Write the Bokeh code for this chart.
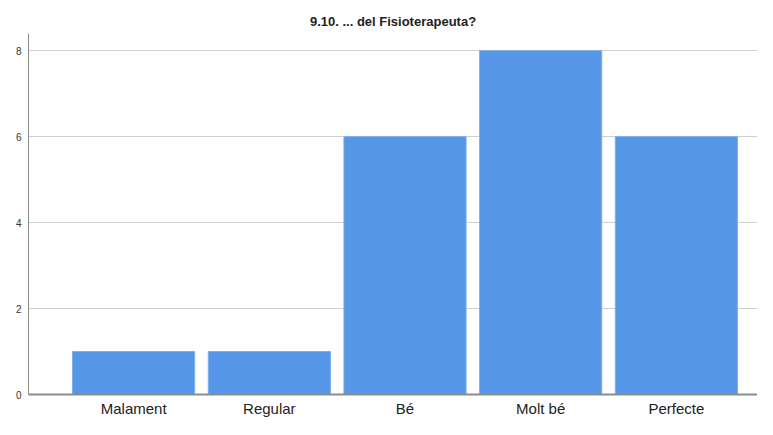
from bokeh.plotting import figure
from bokeh.models import FixedTicker, Range1d, ColumnDataSource
from bokeh.embed import file_html
from bokeh.resources import INLINE

categories = ["Malament", "Regular", "Bé", "Molt bé", "Perfecte"]
counts = [1, 1, 6, 8, 6]
y_ticks = [0, 2, 4, 6, 8]

xs = list(range(len(categories)))
src = ColumnDataSource(dict(x=xs, top=counts))

p = figure(width=757, height=419, output_backend="svg", toolbar_location=None,
           x_range=Range1d(-0.775, 4.598), y_range=Range1d(0, 8.4),
           title="9.10. ... del Fisioterapeuta?")
p.min_border_left = 28
p.min_border_right = 0
p.min_border_top = 33
p.min_border_bottom = 22
p.outline_line_color = None

p.title.align = "center"
p.title.text_font = "Liberation Sans"
p.title.text_font_size = "13px"
p.title.text_font_style = "bold"
p.title.text_color = "#222222"

p.vbar(x="x", top="top", width=0.9, source=src, fill_color="#5596e6",
       line_color="#7aaeee", line_width=1)

p.yaxis.ticker = FixedTicker(ticks=y_ticks)
p.yaxis.major_tick_out = 0
p.yaxis.major_tick_in = 0
p.yaxis.minor_tick_line_color = None
p.yaxis.axis_line_color = "#8c8c8c"
p.yaxis.major_label_text_font = "Liberation Sans"
p.yaxis.major_label_text_font_size = "10px"
p.yaxis.major_label_text_color = "#333333"
p.yaxis.major_label_standoff = 7

p.xaxis.ticker = FixedTicker(ticks=xs)
p.xaxis.major_label_overrides = {i: c for i, c in enumerate(categories)}
p.xaxis.major_tick_out = 0
p.xaxis.major_tick_in = 0
p.xaxis.minor_tick_line_color = None
p.xaxis.axis_line_color = "#8c8c8c"
p.xaxis.axis_line_width = 2
p.xaxis.major_label_text_font = "Liberation Sans"
p.xaxis.major_label_text_font_size = "15px"
p.xaxis.major_label_text_color = "#222222"
p.xaxis.major_label_standoff = 5

p.xgrid.grid_line_color = None
p.ygrid.ticker = FixedTicker(ticks=y_ticks)
p.ygrid.grid_line_color = "#cfcfcf"
p.ygrid.grid_line_width = 1

open("out.html", "w").write(file_html(p, INLINE))
